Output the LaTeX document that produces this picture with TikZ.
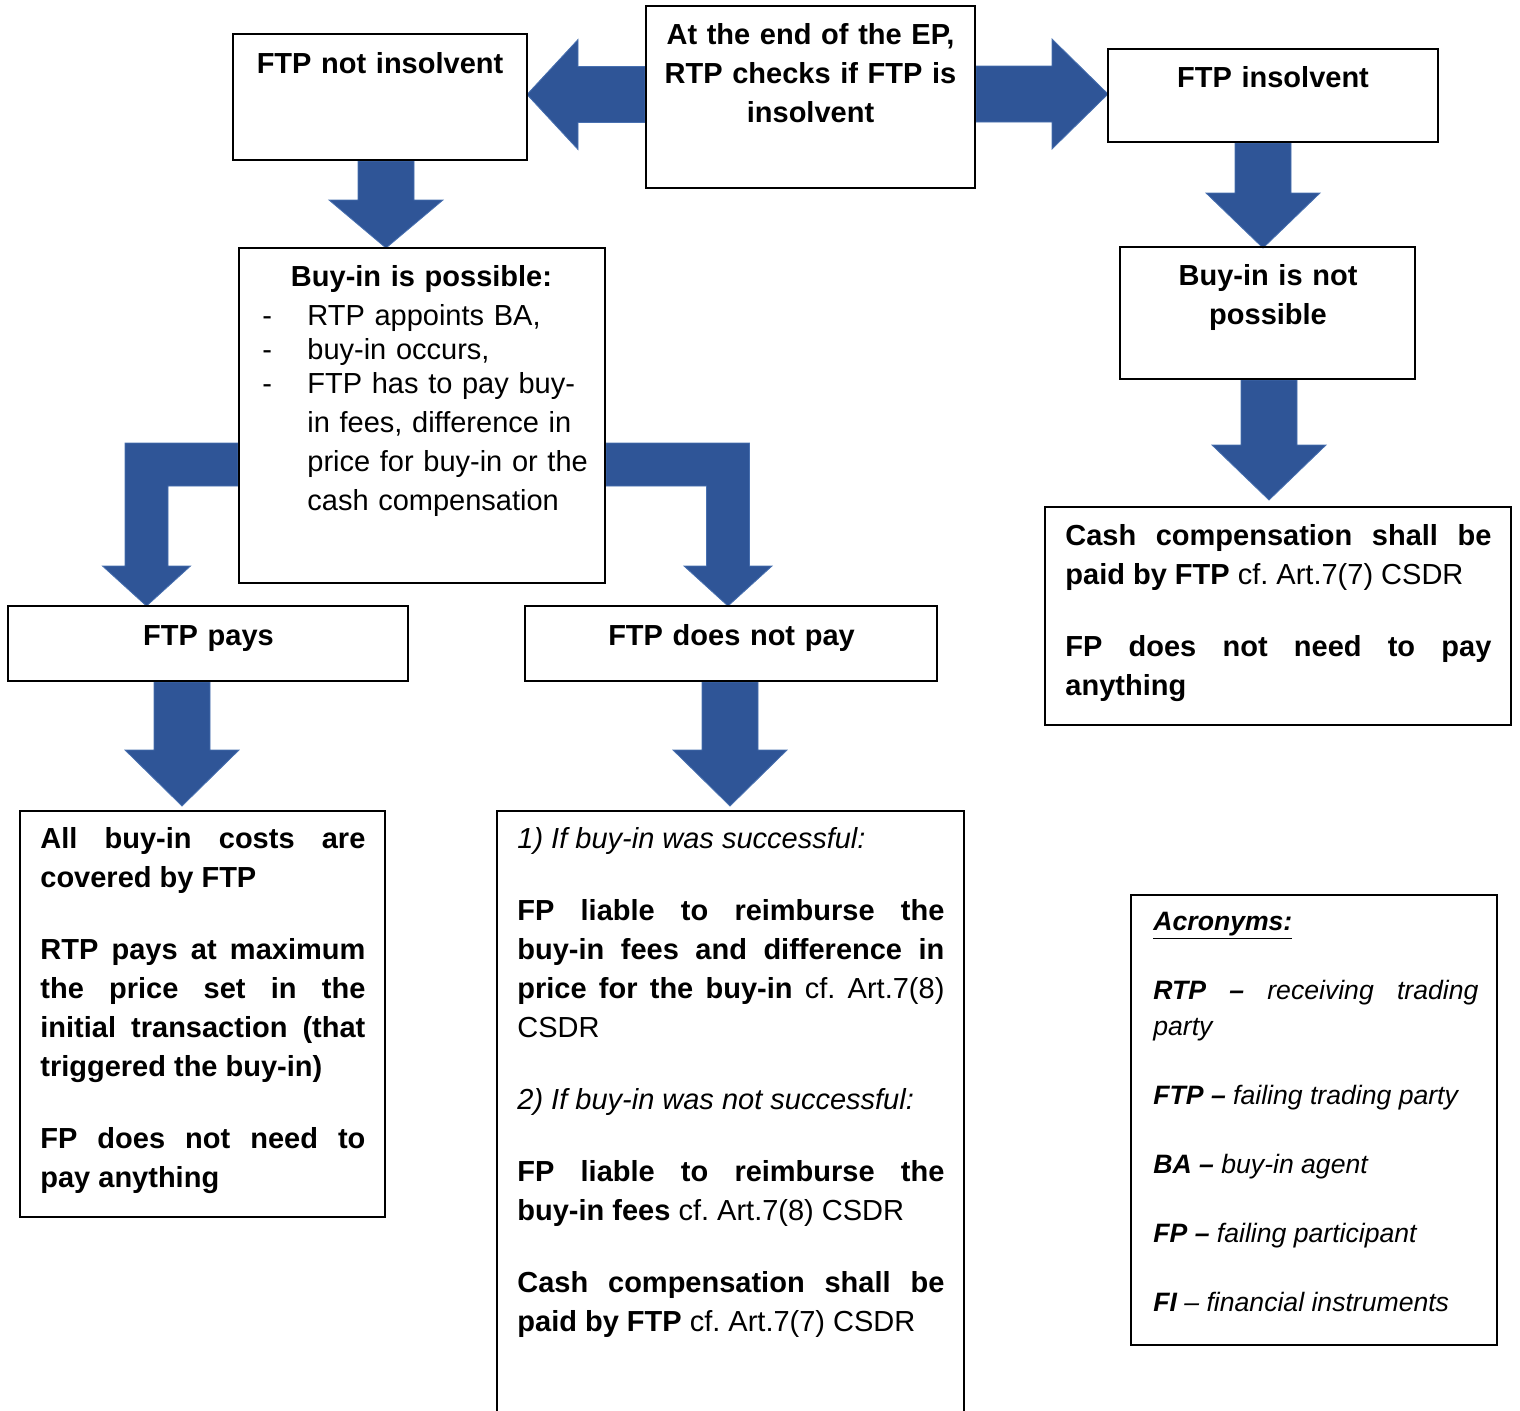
\documentclass[tikz,border=0pt]{standalone}
\usepackage{fontspec}
\setmainfont{Liberation Sans}
\usepackage{xcolor}
\usetikzlibrary{calc, fit, backgrounds}

\definecolor{arrowblue}{RGB}{47,85,151}
\definecolor{arrowedge}{RGB}{72,112,176}

\newcommand{\mainsize}{\fontsize{14.5}{19.5}\selectfont}
\newcommand{\acrosize}{\fontsize{13.3}{18}\selectfont}
\newcommand{\gapline}{\par\vspace{16.5pt}}

\hyphenpenalty=10000
\exhyphenpenalty=10000
\tolerance=9999
\frenchspacing

\tikzset{
  frame/.style={draw, line width=0.9pt, inner sep=0pt},
  head/.style={inner sep=0pt, anchor=base, text width=#1, align=center, font=\mainsize\bfseries},
  body/.style={inner sep=0pt, anchor=base west, text width=#1, align=justify, font=\mainsize},
  blockarrow/.style={fill=arrowblue, draw=arrowedge, line width=0.4pt}
}

% block arrow pointing down: tip, start, head length
\newcommand{\blkdown}[3]{%
  \path[blockarrow] let \p1=(#1), \p2=(#2) in
    (\x1-14pt,\y2) -- (\x1-14pt,\y1+#3) -- (\x1-28.5pt,\y1+#3) -- (\x1,\y1)
    -- (\x1+28.5pt,\y1+#3) -- (\x1+14pt,\y1+#3) -- (\x1+14pt,\y2) -- cycle;}

% block arrow sideways: tip, start, head length, direction (1 right, -1 left)
\newcommand{\blkside}[4]{%
  \path[blockarrow] let \p1=(#1), \p2=(#2) in
    (\x2,\y1+14pt) -- ({\x1-(#4)*#3},\y1+14pt) -- ({\x1-(#4)*#3},\y1+27.5pt) -- (\x1,\y1)
    -- ({\x1-(#4)*#3},\y1-27.5pt) -- ({\x1-(#4)*#3},\y1-14pt) -- (\x2,\y1-14pt) -- cycle;}

% bent block arrow: start on box side, tip, direction (-1 left, 1 right)
\newcommand{\blkbend}[3]{%
  \path[blockarrow] let \p1=(#1), \p2=(#2) in
    (\x1,\y1+10.75pt) -- ({\x2+(#3)*10.75pt},\y1+10.75pt) -- ({\x2+(#3)*10.75pt},\y2+20pt)
    -- ({\x2+(#3)*22pt},\y2+20pt) -- (\x2,\y2) -- ({\x2-(#3)*22pt},\y2+20pt)
    -- ({\x2-(#3)*10.75pt},\y2+20pt) -- ({\x2-(#3)*10.75pt},\y1-10.75pt) -- (\x1,\y1-10.75pt) -- cycle;}

\begin{document}
\begin{tikzpicture}[x=0.5pt, y=-0.5pt]
\useasboundingbox (0,0) rectangle (1520,1410);

% Define the frames
\node[frame, fit={(646,6) (975,188)}] (check) {};
\node[frame, fit={(233,34) (527,160)}] (ftpno) {};
\node[frame, fit={(1108,49) (1438,142)}] (ftpins) {};
\node[frame, fit={(239,248) (605,583)}] (poss) {};
\node[frame, fit={(1120,247) (1415,379)}] (notposs) {};
\node[frame, fit={(1045,507) (1511,725)}] (cashr) {};
\node[frame, fit={(8,606) (408,681)}] (pays) {};
\node[frame, fit={(525,606) (937,681)}] (npay) {};
\node[frame, fit={(20,811) (385,1217)}] (costs) {};
\node[frame, fit={(497,811) (964,1425)}] (liable) {};
\node[frame, fit={(1131,895) (1497,1345)}] (acro) {};

% Texts of the frames
\node[head=300pt] (checktx) at (810.5,44) {At the end of the EP,\\RTP checks if FTP is\\insolvent};
\node[head=140pt] (ftpnotx) at (380,73) {FTP not insolvent};
\node[head=160pt] (ftpinstx) at (1273,87) {FTP insolvent};
\node[head=170pt] (posstl) at (421.5,286) {Buy-in is possible:};
\node[inner sep=0pt, anchor=base west, text width=168pt, align=left, font=\mainsize] (posstx) at (262,325)
  {\makebox[22.5pt][l]{-}RTP appoints BA,\\[-2.5pt]
   \makebox[22.5pt][l]{-}buy-in occurs,\\[-2.5pt]
   \makebox[22.5pt][l]{-}FTP has to pay buy-\\
   \hspace*{22.5pt}in fees, difference in\\
   \hspace*{22.5pt}price for buy-in or the\\
   \hspace*{22.5pt}cash compensation};
\node[head=140pt] (nottx) at (1268,285) {Buy-in is not\\possible};
\node[head=190pt] (paystx) at (208.5,645) {FTP pays};
\node[head=200pt] (npaytx) at (731.5,645) {FTP does not pay};
\node[body=213pt] (cashtx) at (1065,545)
  {\textbf{Cash compensation shall be\linebreak paid by FTP} cf. Art.7(7) CSDR\gapline
   \textbf{FP does not need to pay\linebreak anything}};
\node[body=162.5pt] (coststx) at (40,848)
  {\textbf{All buy-in costs are\linebreak covered by FTP}\gapline
   \textbf{RTP pays at maximum\linebreak the price set in the\linebreak initial transaction (that\linebreak triggered the buy-in)}\gapline
   \textbf{FP does not need to\linebreak pay anything}};
\node[body=213.5pt] (liabletx) at (517,848)
  {\textit{1) If buy-in was successful:}\gapline
   \textbf{FP liable to reimburse the\linebreak buy-in fees and difference in\linebreak price for the buy-in} cf. Art.7(8)\linebreak CSDR\gapline
   \textit{2) If buy-in was not successful:}\gapline
   \textbf{FP liable to reimburse the\linebreak buy-in fees} cf. Art.7(8) CSDR\gapline
   \textbf{Cash compensation shall be\linebreak paid by FTP} cf. Art.7(7) CSDR};
\node[body=162.5pt, font=\acrosize\itshape] (acrotx) at (1153,930)
  {\underline{\textbf{Acronyms:}}\gapline
   \textbf{RTP --} receiving trading\linebreak party\gapline
   \textbf{FTP --} failing trading party\gapline
   \textbf{BA --} buy-in agent\gapline
   \textbf{FP --} failing participant\gapline
   \textbf{FI} -- financial instruments};

% Tips of the block arrows
\coordinate (tipA) at (527,94.5);
\coordinate (tipB) at (1108,94);
\coordinate (tipC) at (386,248);
\coordinate (tipD) at (1263,248);
\coordinate (tipE) at (1269,500);
\coordinate (tipF) at (182,806);
\coordinate (tipG) at (730,806);
\coordinate (tipH) at (146.5,606);
\coordinate (tipI) at (728,606);
\coordinate (bendy) at (0,464.5);

% Add block arrows between the frames
\begin{scope}[on background layer]
\blkside{tipA}{tipA -| check.west}{25.5pt}{-1}
\blkside{tipB}{tipB -| check.east}{28pt}{1}
\blkdown{tipC}{tipC |- ftpno.south}{24pt}
\blkdown{tipD}{tipD |- ftpins.south}{27.5pt}
\blkdown{tipE}{tipE |- notposs.south}{27.5pt}
\blkbend{poss.west |- bendy}{tipH}{-1}
\blkbend{poss.east |- bendy}{tipI}{1}
\blkdown{tipF}{tipF |- pays.south}{28pt}
\blkdown{tipG}{tipG |- npay.south}{28pt}
\end{scope}

\end{tikzpicture}
\end{document}
